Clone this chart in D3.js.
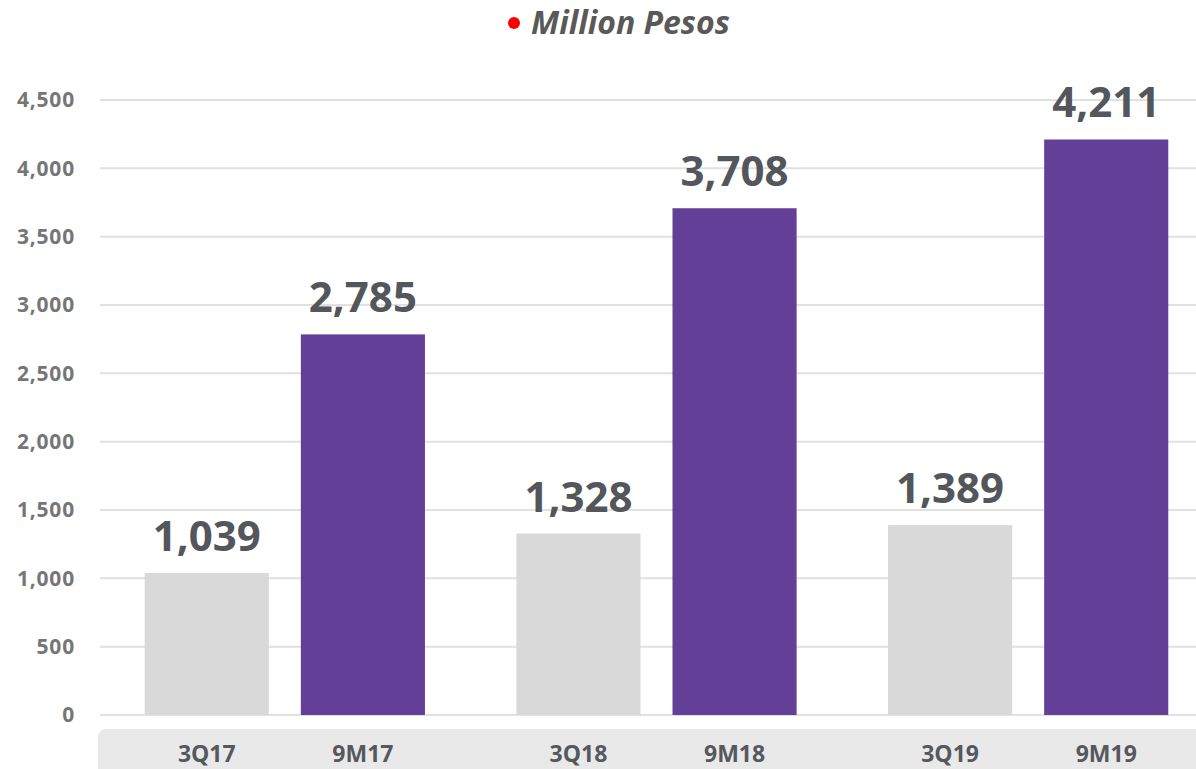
<!DOCTYPE html>
<html>
<head>
<meta charset="utf-8">
<script src="https://cdn.jsdelivr.net/npm/d3@7"></script>
<style>
  body { margin: 0; background: #fff; }
  svg { display: block; font-family: "Open Sans", sans-serif; }
</style>
</head>
<body>
<div id="chart"></div>
<script>
const GROUPS = ['17', '18', '19'];
const SERIES = ['3Q', '9M'];
const LABELS = [['3Q17', '9M17'], ['3Q18', '9M18'], ['3Q19', '9M19']];
const VALUES = [[1039, 2785], [1328, 3708], [1389, 4211]];
const Y_TICKS = [0, 500, 1000, 1500, 2000, 2500, 3000, 3500, 4000, 4500];
const COLOURS = { '3Q': '#d9d9d9', '9M': '#643f97' };

var width = 1196, height = 769;

var svg = d3.select('#chart')
  .append('svg')
    .attr('width', width)
    .attr('height', height);

// scales
var x0 = d3.scaleBand()
  .domain(GROUPS)
  .range([99, 1214])
  .paddingInner(0.246)
  .paddingOuter(0.123);
var x1 = d3.scaleBand()
  .domain(SERIES)
  .range([0, x0.bandwidth()])
  .paddingInner(0.205);
var y = d3.scaleLinear()
  .domain([0, 4500])
  .range([715, 100]);

// gridlines
svg.append('g')
  .selectAll('line')
  .data(Y_TICKS)
  .enter()
  .append('line')
    .attr('x1', 100)
    .attr('x2', width)
    .attr('y1', function(d) { return y(d); })
    .attr('y2', function(d) { return y(d); })
    .style('stroke', '#e1e1e1')
    .style('stroke-width', 2);

// y axis labels
var yAxis = svg.append('g')
  .attr('transform', 'translate(75,0)')
  .call(d3.axisLeft(y).tickValues(Y_TICKS).tickSize(0).tickPadding(0)
          .tickFormat(d3.format(',')));
yAxis.select('.domain').remove();
yAxis.selectAll('text')
  .style('font-family', '"Open Sans", sans-serif')
  .style('font-size', '21px')
  .style('font-weight', 'bold')
  .style('letter-spacing', '0.8px')
  .style('fill', '#767676');

// category band
svg.append('rect')
  .attr('x', 98)
  .attr('y', 729)
  .attr('width', 1130)
  .attr('height', 60)
  .attr('rx', 8)
  .style('fill', '#e9e9e9');

// bars
var groups = svg.append('g')
  .selectAll('g')
  .data(GROUPS)
  .enter()
  .append('g')
    .attr('transform', function(d) { return 'translate(' + x0(d) + ',0)'; });

var cells = groups.selectAll('g')
  .data(function(d, i) {
    return SERIES.map(function(s, j) {
      return { s: s, v: VALUES[i][j], label: LABELS[i][j] };
    });
  })
  .enter()
  .append('g');

cells.append('rect')
  .attr('x', function(d) { return x1(d.s); })
  .attr('y', function(d) { return y(d.v); })
  .attr('width', x1.bandwidth())
  .attr('height', function(d) { return y(0) - y(d.v); })
  .style('fill', function(d) { return COLOURS[d.s]; });

cells.append('text')
  .attr('x', function(d) { return x1(d.s) + x1.bandwidth() / 2; })
  .attr('y', function(d) { return y(d.v) - 22; })
  .attr('text-anchor', 'middle')
  .style('font-size', '42px')
  .style('font-weight', 'bold')
  .style('fill', '#53565b')
  .text(function(d) { return d3.format(',')(d.v); });

cells.append('text')
  .attr('x', function(d) { return x1(d.s) + x1.bandwidth() / 2; })
  .attr('y', 762)
  .attr('text-anchor', 'middle')
  .style('font-size', '23px')
  .style('font-weight', 'bold')
  .style('fill', '#55585d')
  .text(function(d) { return d.label; });

// title
svg.append('circle')
  .attr('cx', 514)
  .attr('cy', 23)
  .attr('r', 6)
  .style('fill', '#ff0000');
svg.append('text')
  .attr('x', 531)
  .attr('y', 34)
  .style('font-size', '32px')
  .style('font-weight', 'bold')
  .style('font-style', 'italic')
  .style('fill', '#595959')
  .text('Million Pesos');
</script>
</body>
</html>
